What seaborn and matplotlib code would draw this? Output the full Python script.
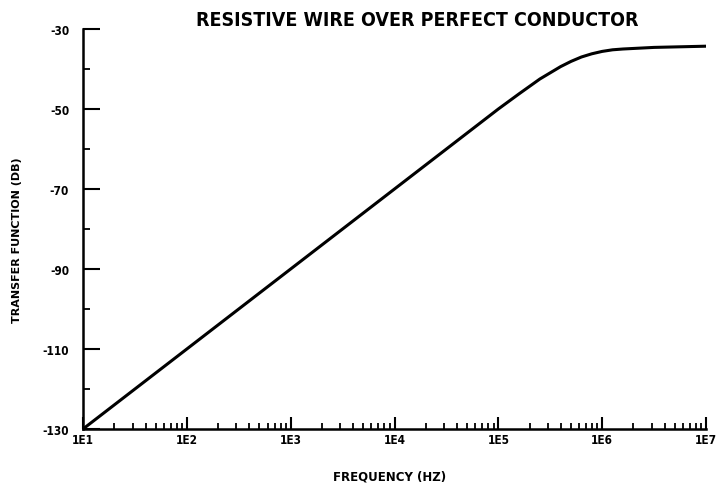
import numpy as np
import pandas as pd
import matplotlib
matplotlib.use("Agg")
import matplotlib.pyplot as plt
import seaborn as sns
from matplotlib.ticker import FixedLocator, NullFormatter

# Data
log_freq = [1.0, 2.0, 3.0, 4.0, 5.0, 5.2, 5.4, 5.6, 5.7, 5.8, 5.9, 6.0, 6.1, 6.2, 6.5, 7.0]
transfer_db = [-130.0, -110.0, -90.0, -70.0, -50.0, -46.2, -42.5, -39.4, -38.1, -37.0, -36.2, -35.6, -35.2, -35.0, -34.6, -34.3]
x_tick_values = [1e1, 1e2, 1e3, 1e4, 1e5, 1e6, 1e7]
x_tick_labels = ["1E1", "1E2", "1E3", "1E4", "1E5", "1E6", "1E7"]
y_tick_values = [-30, -50, -70, -90, -110, -130]
y_minor_values = [-40, -60, -80, -100, -120]

freq = [10 ** v for v in log_freq]
df = pd.DataFrame({"freq": freq, "db": transfer_db})

sns.set_style("ticks")
plt.rcParams['font.family'] = ['DejaVu Sans']
plt.rcParams['text.color'] = 'black'
plt.rcParams['xtick.color'] = 'black'
plt.rcParams['ytick.color'] = 'black'

fig = plt.figure(figsize=(7.21, 4.89), dpi=100)
ax = fig.add_axes([83/721, 59/489, (706-83)/721, (430-30)/489])

sns.lineplot(data=df, x="freq", y="db", ax=ax, color="black", linewidth=2.2)
ax.set_xscale("log")
ax.set_xlim(1e1, 1e7)
ax.set_ylim(-130, -30)

ax.set_xticks(x_tick_values)
ax.set_xticklabels(x_tick_labels)
ax.xaxis.set_minor_locator(FixedLocator([d * m for d in x_tick_values[:-1] for m in range(2, 10)]))
ax.xaxis.set_minor_formatter(NullFormatter())
ax.set_yticks(y_tick_values)
ax.set_yticklabels([str(v) for v in y_tick_values])
ax.yaxis.set_minor_locator(FixedLocator(y_minor_values))

for lab in ax.get_xticklabels() + ax.get_yticklabels():
    lab.set_fontweight("bold")
    lab.set_fontsize(8.5)
    lab.set_fontstretch("condensed")
    lab.set_color("black")

ax.tick_params(axis="x", which="major", direction="in", length=9, width=1.5, pad=3)
ax.tick_params(axis="x", which="minor", direction="in", length=4, width=1.3)
ax.tick_params(axis="y", which="major", direction="in", length=12, width=1.5, pad=10)
ax.tick_params(axis="y", which="minor", direction="in", length=5, width=1.3)

for s in ["top", "right"]:
    ax.spines[s].set_visible(False)
for s in ["left", "bottom"]:
    ax.spines[s].set_linewidth(1.8)
    ax.spines[s].set_color("black")

ax.set_xlabel("")
ax.set_ylabel("")
fig.text(417/721, 1 - 20/489, "RESISTIVE WIRE OVER PERFECT CONDUCTOR", ha="center", va="center",
         fontsize=14, fontweight="bold", fontstretch="condensed", color="black")
fig.text(390/721, 1 - 477/489, "FREQUENCY (HZ)", ha="center", va="center",
         fontsize=8.5, fontweight="bold", color="black")
fig.text(17/721, 1 - 240/489, "TRANSFER FUNCTION (DB)", ha="center", va="center",
         fontsize=8, fontweight="bold", rotation=90, color="black")

fig.savefig("out.png", dpi=100, facecolor="white")
